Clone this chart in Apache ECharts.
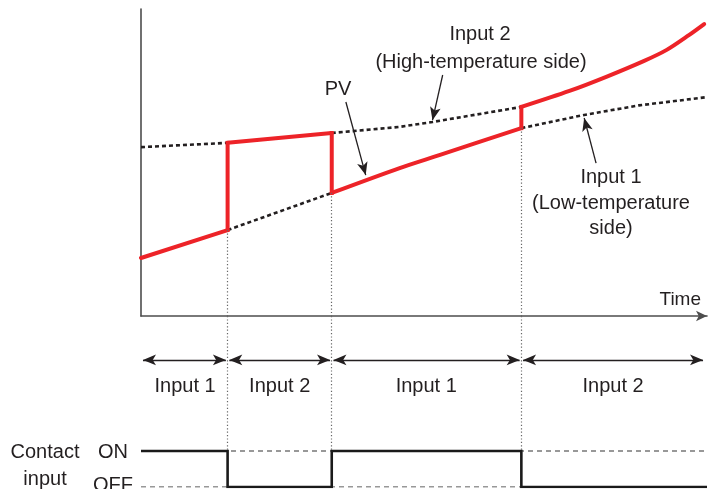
<!DOCTYPE html>
<html><head><meta charset="utf-8">
<script src="https://cdn.jsdelivr.net/npm/echarts@6/dist/echarts.min.js"></script>
<style>html,body{margin:0;padding:0;background:#fff}#c{width:708px;height:489px}</style>
</head><body><div id="c"></div>
<script>
// ---- data (time units 0..100, temperature units 0..100) ----
var switchTimes = [15.3, 33.7, 67.2];
var pvLine = [[0,18.9],[15.3,28.0],[15.3,56.4],[33.7,59.6],[33.7,40.1],[45.7,48.2],[52.7,52.4],[67.2,61.2],[67.2,68.1],[75.7,73.3],[82.2,77.9],[88.9,83.1],[92.8,86.6],[96.8,91.5],[99.5,95.1]];
var input1SegA = [[15.3,28.0],[33.7,40.1]];
var input1SegB = [[67.2,61.2],[78.3,65.5],[88.0,68.6],[100,71.3]];
var input2SegA = [[0,55.0],[15.3,56.4]];
var input2SegB = [[33.7,59.6],[45.7,61.6],[51.5,63.2],[67.2,68.1]];
var switchLow = [28.0, 40.1, 61.2];
var contactSignal = [[0,1],[15.3,1],[15.3,0],[33.7,0],[33.7,1],[67.2,1],[67.2,0],[100,0]]; // 1 = ON, 0 = OFF
var spanStarts = [0.35, 15.6, 34.0, 67.5];
var spanEnds = [15.0, 33.4, 66.9, 99.3];
var spanLabels = ['Input 1','Input 2','Input 1','Input 2'];
var spanCenters = [7.8, 24.5, 50.4, 83.4];
var pvArrow = [[36.2,69.7],[39.7,45.9]];
var in2Arrow = [[53.3,78.5],[51.5,63.8]];
var in1Arrow = [[80.4,49.8],[78.3,64.5]];

var FONT = '"Liberation Sans", Arial, sans-serif';
var TXT = '#231f20';
var RED = '#ed2328';
var SIG_TOP = 4.75, ROW_ARROW = 3.53, ROW_LABEL = 2.78;

var chart = echarts.init(document.getElementById('c'), null, {renderer:'canvas'});

function dotted(data){
  return {type:'line', xAxisIndex:0, yAxisIndex:0, data:data, symbol:'none', silent:true,
    lineStyle:{color:'#231f20', width:2.6, type:[4,3]}, z:2};
}
function arrowLine(pair){
  return [{coord:pair[0], symbol:'none'},{coord:pair[1], symbol:'arrow', symbolSize:[8,13]}];
}
// split PV into continuous runs and vertical switch jumps
var pvRuns = [], pvJumps = [], cur = [pvLine[0]];
for (var i = 1; i < pvLine.length; i++) {
  if (pvLine[i][0] === pvLine[i-1][0]) {
    pvRuns.push(cur); pvJumps.push([pvLine[i-1], pvLine[i]]); cur = [pvLine[i]];
  } else cur.push(pvLine[i]);
}
pvRuns.push(cur);

var guideTop = switchTimes.map(function(t,i){return [{coord:[t,switchLow[i]]},{coord:[t,0]}];});
var guideBottom = switchTimes.map(function(t){return [{coord:[t,SIG_TOP]},{coord:[t,1]}];});
var spans = spanStarts.map(function(s,i){return [{coord:[s,ROW_ARROW]},{coord:[spanEnds[i],ROW_ARROW]}];});

var series = [dotted(input1SegA), dotted(input1SegB), dotted(input2SegA), dotted(input2SegB)];
pvRuns.forEach(function(run){
  series.push({type:'line', xAxisIndex:0, yAxisIndex:0, data:run, symbol:'none', silent:true,
    smooth:0.3, lineStyle:{color:RED, width:4, cap:'round'}, z:3});
});
pvJumps.forEach(function(j){
  series.push({type:'line', xAxisIndex:0, yAxisIndex:0, data:j, symbol:'none', silent:true,
    lineStyle:{color:RED, width:4, cap:'square'}, z:3});
});
series.push(
  {type:'line', xAxisIndex:0, yAxisIndex:0, data:[], symbol:'none', silent:true,
   markLine:{silent:true, symbol:'none', label:{show:false}, animation:false,
     lineStyle:{color:'#666', width:1.2, type:[1.2,2.2]}, data:guideTop}},
  {type:'line', xAxisIndex:0, yAxisIndex:0, data:[], symbol:'none', silent:true,
   markLine:{silent:true, label:{show:false}, animation:false,
     lineStyle:{color:'#231f20', width:1.3, type:'solid'},
     data:[arrowLine(pvArrow), arrowLine(in2Arrow), arrowLine(in1Arrow)]}},
  {type:'line', xAxisIndex:1, yAxisIndex:1, data:[[0,1],[100,1]], symbol:'none', silent:true,
   lineStyle:{color:'#333', width:1.2, type:[5,4]}, z:1},
  {type:'line', xAxisIndex:1, yAxisIndex:1, data:[[0,0],[100,0]], symbol:'none', silent:true,
   lineStyle:{color:'#333', width:1.2, type:[5,4]}, z:1},
  {type:'line', xAxisIndex:1, yAxisIndex:1, data:contactSignal, symbol:'none', silent:true,
   lineStyle:{color:'#1a1a1a', width:2.6, join:'miter'}, z:3,
   markLine:{silent:true, symbol:'none', label:{show:false}, animation:false,
     lineStyle:{color:'#666', width:1.2, type:[1.2,2.2]}, data:guideBottom}},
  {type:'line', xAxisIndex:1, yAxisIndex:1, data:[], symbol:'none', silent:true,
   markLine:{silent:true, label:{show:false}, animation:false, symbol:['arrow','arrow'], symbolSize:[8,13],
     lineStyle:{color:'#231f20', width:1.3, type:'solid'}, data:spans}},
  {type:'scatter', xAxisIndex:1, yAxisIndex:1, symbolSize:1, silent:true,
   itemStyle:{opacity:1, color:'rgba(0,0,0,0)'},
   data:spanCenters.map(function(c,i){return {value:[c,ROW_LABEL], name:spanLabels[i]};}),
   label:{show:true, position:'inside', formatter:'{b}', color:TXT, opacity:1, fontSize:20, fontFamily:FONT}}
);

var option = {
  animation:false,
  backgroundColor:'#fff',
  grid:[
    {left:141, right:1, top:9, height:307},
    {left:141, right:1, top:316, height:171}
  ],
  xAxis:[
    {type:'value', gridIndex:0, min:0, max:100,
     axisLine:{show:true, lineStyle:{color:'#4d4d4d', width:1.6}, symbol:['none','arrow'], symbolSize:[8,11]},
     axisTick:{show:false}, axisLabel:{show:false}, splitLine:{show:false}},
    {type:'value', gridIndex:1, min:0, max:100, show:false}
  ],
  yAxis:[
    {type:'value', gridIndex:0, min:0, max:100,
     axisLine:{show:true, lineStyle:{color:'#4d4d4d', width:1.6}},
     axisTick:{show:false}, axisLabel:{show:false}, splitLine:{show:false}},
    {type:'value', gridIndex:1, min:0, max:SIG_TOP, show:false}
  ],
  series:series,
  graphic:[
    {type:'text', x:480, y:34, style:{text:'Input 2', align:'center', verticalAlign:'middle', fill:TXT, font:'20px '+FONT}},
    {type:'text', x:481, y:62, style:{text:'(High-temperature side)', align:'center', verticalAlign:'middle', fill:TXT, font:'20px '+FONT}},
    {type:'text', x:338, y:89, style:{text:'PV', align:'center', verticalAlign:'middle', fill:TXT, font:'20px '+FONT}},
    {type:'text', x:611, y:177, style:{text:'Input 1', align:'center', verticalAlign:'middle', fill:TXT, font:'20px '+FONT}},
    {type:'text', x:611, y:203, style:{text:'(Low-temperature', align:'center', verticalAlign:'middle', fill:TXT, font:'20px '+FONT}},
    {type:'text', x:611, y:228, style:{text:'side)', align:'center', verticalAlign:'middle', fill:TXT, font:'20px '+FONT}},
    {type:'text', x:701, y:300, style:{text:'Time', align:'right', verticalAlign:'middle', fill:TXT, font:'19px '+FONT}},
    {type:'text', x:45, y:452, style:{text:'Contact', align:'center', verticalAlign:'middle', fill:TXT, font:'20px '+FONT}},
    {type:'text', x:45, y:479, style:{text:'input', align:'center', verticalAlign:'middle', fill:TXT, font:'20px '+FONT}},
    {type:'text', x:113, y:452, style:{text:'ON', align:'center', verticalAlign:'middle', fill:TXT, font:'20px '+FONT}},
    {type:'text', x:113, y:485, style:{text:'OFF', align:'center', verticalAlign:'middle', fill:TXT, font:'20px '+FONT}}
  ]
};
chart.setOption(option);
</script></body></html>
